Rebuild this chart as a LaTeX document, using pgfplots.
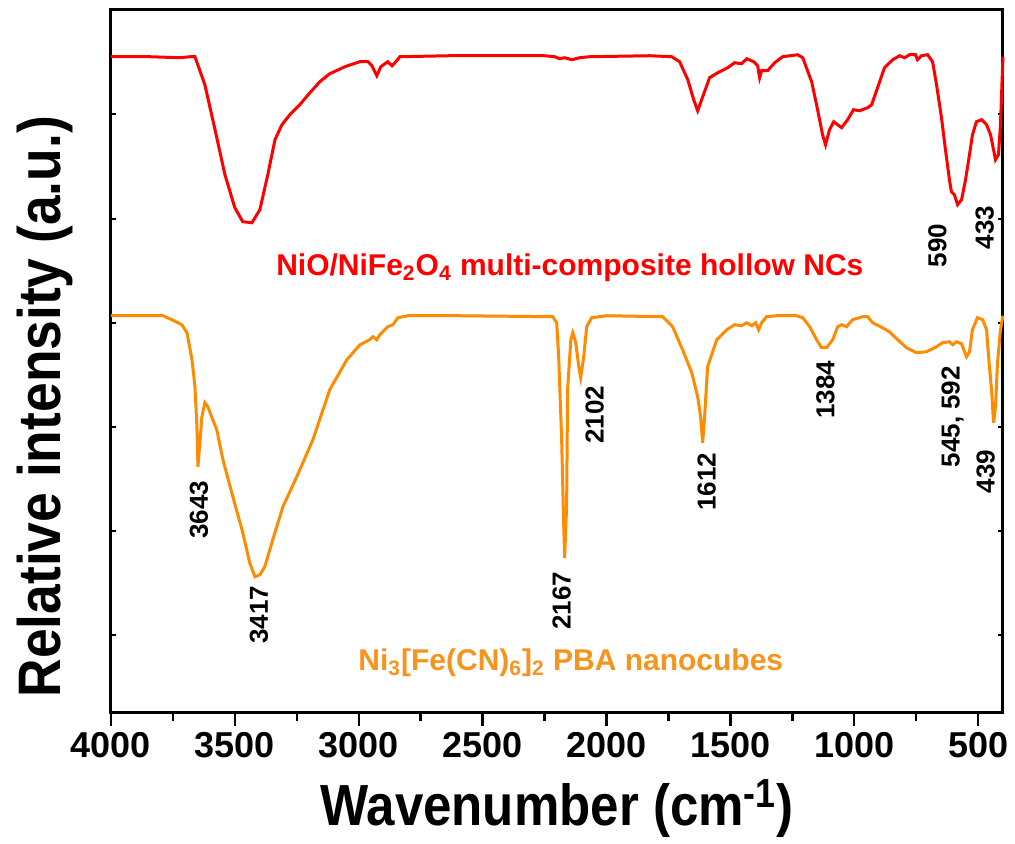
\documentclass[border=0pt]{standalone}
\usepackage{fontspec}
\setmainfont{Liberation Sans}
\usepackage{graphicx}
\usepackage{pgfplots}
\usepackage{pgfplotstable}
\pgfplotsset{compat=1.18}

\definecolor{niored}{RGB}{255,0,0}
\definecolor{pbaline}{RGB}{255,140,0}
\definecolor{pbatext}{RGB}{247,148,29}

% NiO/NiFe2O4 hollow NCs (offset trace)
\pgfplotstableread{
wn v
4000 656
3843 656
3722 655
3681 656
3661 656
3621 628
3580 583
3540 538
3500 505
3468 491
3431 490
3399 503
3367 538
3338 573
3310 588
3278 598
3238 608
3197 620
3157 631
3117 639
3056 646
2996 651
2963 651
2947 647
2927 637
2911 646
2883 651
2866 647
2850 651
2834 656
2632 657
2249 657
2209 656
2189 654
2169 655
2140 653
2108 655
2068 656
1826 657
1737 656
1705 651
1672 633
1648 613
1632 602
1616 613
1584 635
1551 640
1511 645
1483 650
1455 649
1434 654
1406 651
1390 647
1382 635
1374 642
1350 642
1321 650
1289 656
1229 658
1208 655
1172 631
1148 603
1128 578
1116 568
1100 583
1083 591
1067 588
1051 585
1027 593
1003 603
979 602
946 605
930 608
906 625
878 645
845 653
817 657
797 655
777 658
753 658
745 653
729 657
704 658
684 651
668 628
648 595
632 563
616 533
608 521
596 518
583 508
567 513
551 533
535 558
523 578
507 591
486 593
466 588
450 578
438 563
430 553
418 558
410 588
400 656
}\nio

% Ni3[Fe(CN)6]2 PBA nanocubes
\pgfplotstableread{
wn v
4000 397
3790 397
3754 393
3730 390
3714 388
3693 380
3673 353
3661 326
3653 286
3649 246
3641 270
3633 296
3621 310
3609 306
3589 293
3573 283
3548 253
3508 216
3468 180
3440 150
3419 136
3399 138
3379 146
3347 173
3306 206
3250 236
3185 273
3117 323
3048 353
2995 368
2955 373
2943 376
2927 373
2915 378
2883 386
2862 388
2842 395
2802 397
2600 397
2217 396
2201 390
2193 356
2181 273
2173 190
2169 155
2161 206
2157 323
2144 373
2136 380
2124 370
2112 346
2104 335
2092 356
2080 386
2060 395
1999 397
1773 396
1733 386
1693 363
1656 340
1632 316
1620 296
1612 270
1604 296
1592 346
1555 373
1515 383
1483 388
1455 387
1434 390
1414 387
1398 390
1386 383
1374 390
1354 396
1313 397
1233 397
1208 395
1180 386
1152 373
1132 365
1112 365
1087 373
1067 386
1051 388
1031 386
1007 393
966 396
946 396
926 390
886 385
858 381
825 373
789 365
749 360
708 361
668 366
644 370
616 371
603 368
587 371
567 369
555 361
547 356
535 361
523 383
503 395
482 393
466 383
458 356
446 323
438 290
430 306
422 350
410 383
400 397
}\pba

\begin{document}
\begin{tikzpicture}
\begin{axis}[
    width=446pt, height=351.75pt, scale only axis,
    xmin=400, xmax=4000, x dir=reverse,
    ymin=0, ymax=703.5,
    xtick={500,1000,...,4000}, minor x tick num=1,
    xtick pos=left, xtick align=outside,
    ytick={78,182,286,390,494,599}, yticklabels={},
    ytick pos=both, ytick align=inside,
    major tick length=6.5pt, minor tick length=4pt,
    tick style={black, line width=1.2pt},
    ytick style={/pgfplots/major tick length=2.5pt},
    axis line style={line width=1.5pt},
    xticklabel style={font=\fontsize{18}{18}\selectfont\bfseries},
    /pgf/number format/assume math mode=true,
    /pgf/number format/set thousands separator={},
    xlabel={\scalebox{0.88}[1]{Wavenumber (cm\textsuperscript{-1})}},
    ylabel={\scalebox{0.89}[1]{Relative intensity (a.u.)}},
    xlabel style={at={(axis description cs:0.5,-0.16)}, anchor=base,
        font=\fontsize{29}{29}\selectfont\bfseries},
    ylabel style={at={(axis description cs:-0.0734,0.435)}, anchor=center,
        font=\fontsize{30}{30}\selectfont\bfseries},
    clip=false,
]
\addplot[niored, line width=1.5pt, no marks] table[x=wn, y=v] {\nio};
\addplot[pbaline, line width=1.5pt, no marks] table[x=wn, y=v] {\pba};

\node[niored, font=\fontsize{15}{15}\selectfont\bfseries] at (axis cs:2148,445)
    {NiO/NiFe\textsubscript{2}O\textsubscript{4} multi-composite hollow NCs};
\node[pbatext, font=\fontsize{15}{15}\selectfont\bfseries] at (axis cs:2144,50)
    {Ni\textsubscript{3}[Fe(CN)\textsubscript{6}]\textsubscript{2} PBA nanocubes};

\begin{scope}[every node/.style={rotate=90, font=\fontsize{13}{13}\selectfont\bfseries}]
\node at (axis cs:664,467) {590};
\node at (axis cs:474,485) {433};
\node at (axis cs:3645,203) {3643};
\node at (axis cs:3403,98) {3417};
\node at (axis cs:2181,112) {2167};
\node at (axis cs:2048,298) {2102};
\node at (axis cs:1596,231) {1612};
\node at (axis cs:1116,323) {1384};
\node at (axis cs:603,296) {545, 592};
\node at (axis cs:470,241) {439};
\end{scope}

\path (axis description cs:-0.1244,-0.181) rectangle (axis description cs:1.0135,1.0131);
\end{axis}
\end{tikzpicture}
\end{document}
